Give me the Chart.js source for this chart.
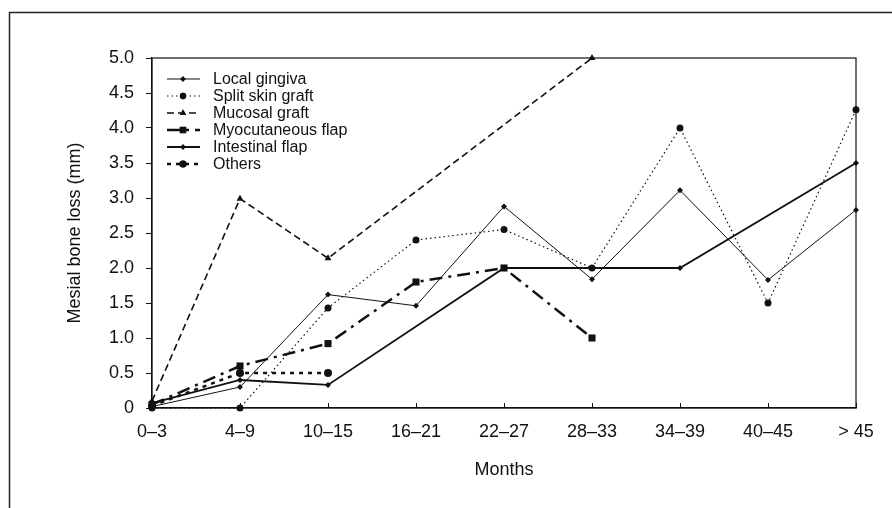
<!DOCTYPE html>
<html lang="en">
<head>
    <meta charset="UTF-8">
    <title>Mesial bone loss</title>
    <script src="https://cdn.jsdelivr.net/npm/chart.js"></script>
    <style>
        html, body {
            margin: 0;
            padding: 0;
            background: #fff;
        }
        #wrap {
            width: 892px;
            height: 508px;
        }
    </style>
</head>
<body>
    <div id="wrap"><canvas id="boneChart"></canvas></div>

    <script>
        // data
        const months = ['0\u20133', '4\u20139', '10\u201315', '16\u201321', '22\u201327', '28\u201333', '34\u201339', '40\u201345', '> 45'];
        const localGingiva = [0.02, 0.30, 1.62, 1.46, 2.88, 1.84, 3.11, 1.83, 2.83];
        const splitSkinGraft = [0, 0, 1.43, 2.40, 2.55, 2.00, 4.00, 1.50, 4.26];
        const mucosalGraft = [0.10, 2.99, 2.14, null, null, 5.00, null, null, null];
        const myocutaneousFlap = [0.05, 0.60, 0.92, 1.80, 2.00, 1.00, null, null, null];
        const intestinalFlap = [0.07, 0.40, 0.33, null, 2.00, 2.00, 2.00, null, 3.50];
        const others = [0.03, 0.50, 0.50, null, null, null, null, null, null];
        const yTicks = [0, 0.5, 1.0, 1.5, 2.0, 2.5, 3.0, 3.5, 4.0, 4.5, 5.0];

        const FONT = '"Liberation Sans", Arial, sans-serif';
        const INK = '#111';

        function series(label, data, style) {
            return Object.assign({
                label: label,
                data: data,
                borderColor: INK,
                backgroundColor: INK,
                pointBackgroundColor: INK,
                pointBorderColor: INK,
                pointBorderWidth: 0,
                tension: 0,
                spanGaps: true,
                clip: false
            }, style);
        }

        const datasets = [
            series('Local gingiva', localGingiva, { borderWidth: 1, borderDash: [], pointStyle: 'rectRot', pointRadius: 3 }),
            series('Split skin graft', splitSkinGraft, { borderWidth: 1.2, borderDash: [1.5, 3], pointStyle: 'circle', pointRadius: 3.5 }),
            series('Mucosal graft', mucosalGraft, { borderWidth: 1.6, borderDash: [7, 4], pointStyle: 'triangle', pointRadius: 4 }),
            series('Myocutaneous flap', myocutaneousFlap, { borderWidth: 2.5, borderDash: [13, 6, 3, 6], pointStyle: 'rect', pointRadius: 5 }),
            series('Intestinal flap', intestinalFlap, { borderWidth: 1.8, borderDash: [], pointStyle: 'rectRot', pointRadius: 3 }),
            series('Others', others, { borderWidth: 2.5, borderDash: [4, 5], pointStyle: 'circle', pointRadius: 4 })
        ];

        // outer frame, plot box, inner x ticks and the legend inside the plot
        const decorations = {
            id: 'decorations',
            afterDraw(chart) {
                const ctx = chart.ctx;
                const area = chart.chartArea;
                ctx.save();
                ctx.strokeStyle = '#222';
                ctx.lineWidth = 1.5;
                ctx.beginPath();
                ctx.moveTo(9.5, 508);
                ctx.lineTo(9.5, 12.5);
                ctx.lineTo(892, 12.5);
                ctx.stroke();

                ctx.lineWidth = 1.2;
                ctx.strokeStyle = '#111';
                ctx.strokeRect(area.left, area.top, area.right - area.left, area.bottom - area.top);

                const xs = chart.scales.x;
                ctx.lineWidth = 1;
                xs.ticks.forEach((t, i) => {
                    const px = Math.round(xs.getPixelForTick(i)) + 0.5;
                    ctx.beginPath();
                    ctx.moveTo(px, area.bottom);
                    ctx.lineTo(px, area.bottom - 5);
                    ctx.stroke();
                });

                // legend
                ctx.font = '16px ' + FONT;
                ctx.textBaseline = 'middle';
                ctx.fillStyle = INK;
                chart.data.datasets.forEach((ds, i) => {
                    const y = 79 + i * 17;
                    ctx.save();
                    ctx.strokeStyle = INK;
                    ctx.lineWidth = ds.borderWidth;
                    ctx.setLineDash(ds.borderDash);
                    ctx.beginPath();
                    ctx.moveTo(167, y);
                    ctx.lineTo(200, y);
                    ctx.stroke();
                    ctx.restore();
                    Chart.helpers.drawPoint(ctx, {
                        pointStyle: ds.pointStyle,
                        radius: ds.pointRadius * 0.9,
                        borderWidth: 0,
                        rotation: 0
                    }, 183, y);
                    ctx.fill();
                    ctx.fillText(ds.label, 213, y + 1);
                });
                ctx.restore();
            }
        };

        window.onload = function() {
            const ctx = document.getElementById('boneChart').getContext('2d');
            new Chart(ctx, {
                type: 'line',
                data: {
                    labels: months,
                    datasets: datasets
                },
                options: {
                    responsive: true,
                    maintainAspectRatio: false,
                    animation: false,
                    layout: {
                        padding: { top: 58, right: 36, bottom: 0, left: 0 }
                    },
                    plugins: {
                        legend: { display: false },
                        tooltip: { enabled: false }
                    },
                    scales: {
                        x: {
                            offset: false,
                            afterFit: s => { s.height = 100; },
                            grid: { display: false, drawTicks: false },
                            border: { display: true, color: '#111', width: 1.2 },
                            ticks: {
                                color: INK,
                                padding: 13,
                                maxRotation: 0,
                                autoSkip: false,
                                font: { family: FONT, size: 18 }
                            },
                            title: {
                                display: true,
                                text: 'Months',
                                color: INK,
                                padding: { top: 0, bottom: 27 },
                                font: { family: FONT, size: 18 }
                            }
                        },
                        y: {
                            min: 0,
                            max: 5,
                            afterFit: s => { s.width = 152; },
                            afterBuildTicks: s => { s.ticks = yTicks.map(v => ({ value: v })); },
                            grid: { drawOnChartArea: false, drawTicks: true, tickLength: 6, color: '#111' },
                            border: { display: true, color: '#111', width: 1.2 },
                            ticks: {
                                color: INK,
                                padding: 12,
                                font: { family: FONT, size: 18 },
                                callback: v => (v === 0 ? '0' : v.toFixed(1))
                            },
                            title: {
                                display: true,
                                text: 'Mesial bone loss (mm)',
                                color: INK,
                                padding: { top: 64, bottom: 0 },
                                font: { family: FONT, size: 18 }
                            }
                        }
                    }
                },
                plugins: [decorations]
            });
        };
    </script>
</body>
</html>
